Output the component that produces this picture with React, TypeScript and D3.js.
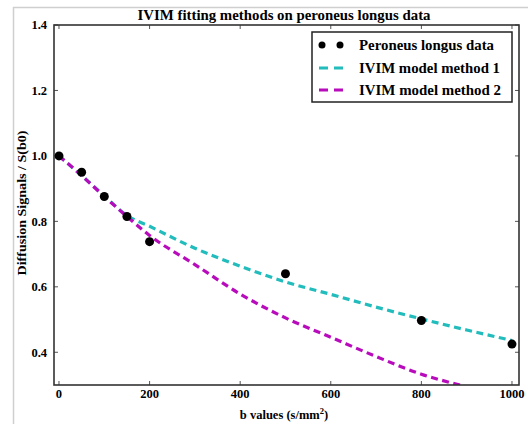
import React from 'react';
import * as d3 from 'd3';

// measured data (b value, normalised signal)
const dataB = [0, 50, 100, 150, 200, 500, 800, 1000];
const dataS = [1.0, 0.95, 0.876, 0.815, 0.738, 0.64, 0.497, 0.425];

// fitted curves
const fitB = [0, 50, 100, 150, 200, 300, 400, 500, 600, 700, 800, 900, 1000];
const fit1 = [1.0, 0.94, 0.878, 0.818, 0.785, 0.718, 0.663, 0.615, 0.577, 0.538, 0.502, 0.468, 0.436];
const fit2 = [1.0, 0.94, 0.876, 0.815, 0.757, 0.668, 0.578, 0.505, 0.446, 0.387, 0.333, 0.294, 0.255];

const xTicks = [0, 200, 400, 600, 800, 1000];
const yTicks = [0.4, 0.6, 0.8, 1.0, 1.2, 1.4];

const legendItems = ['Peroneus longus data', 'IVIM model method 1', 'IVIM model method 2'];
const legendLen = [135, 141, 142];

const W = 528, H = 424;
const left = 54, right = 519, top = 25, bottom = 385;
const CYAN = '#22bcbc';
const MAGENTA = '#b80cbc';
const FONT = '"Liberation Serif", "Times New Roman", serif';

export default function App() {
  const x = d3.scaleLinear().domain([-11, 1015.5]).range([left, right]);
  const y = d3.scaleLinear().domain([0.3, 1.4]).range([bottom, top]);

  const line = d3.line<number>()
    .x((d, i) => x(fitB[i]))
    .y(d => y(d))
    .curve(d3.curveMonotoneX);

  const fmtY = (v: number) => v.toFixed(1);
  const legendY = [45, 68, 90];

  return (
    <svg width={W} height={H} style={{ position: 'absolute', left: 0, top: 0, background: '#fff' }}
      fontFamily={FONT} fontWeight="bold">
      <defs>
        <clipPath id="plot">
          <rect x={left} y={top} width={right - left} height={bottom - top} />
        </clipPath>
      </defs>

      {/* outer light frame */}
      <line x1={13} y1={7.5} x2={W} y2={7.5} stroke="#cfcfcf" strokeWidth={1.5} />
      <line x1={13.5} y1={7} x2={13.5} y2={H} stroke="#cfcfcf" strokeWidth={1.5} />

      <text x={284} y={20} textAnchor="middle" fontSize={15.5} textLength={293} lengthAdjust="spacingAndGlyphs">
        IVIM fitting methods on peroneus longus data
      </text>

      {/* ticks, inward on all sides */}
      {xTicks.map(t => (
        <g key={'x' + t}>
          <line x1={x(t)} x2={x(t)} y1={bottom} y2={bottom - 4} stroke="#555" />
          <line x1={x(t)} x2={x(t)} y1={top} y2={top + 4} stroke="#555" />
          <text x={x(t)} y={398} textAnchor="middle" fontSize={12.5}>{t}</text>
        </g>
      ))}
      {yTicks.map(t => (
        <g key={'y' + t}>
          <line x1={left} x2={left + 4} y1={y(t)} y2={y(t)} stroke="#555" />
          <line x1={right} x2={right - 4} y1={y(t)} y2={y(t)} stroke="#555" />
          <text x={47} y={y(t)} dy="0.35em" textAnchor="end" fontSize={12.5}>{fmtY(t)}</text>
        </g>
      ))}

      <g clipPath="url(#plot)">
        <path d={line(fit1) || ''} fill="none" stroke={CYAN} strokeWidth={3.2} strokeDasharray="7,4.5" />
        <path d={line(fit2) || ''} fill="none" stroke={MAGENTA} strokeWidth={3.2} strokeDasharray="7,4.5" />
        {dataB.map((b, i) => (
          <circle key={b} cx={x(b)} cy={y(dataS[i])} r={4.5} fill="#000" />
        ))}
      </g>

      <rect x={left} y={top} width={right - left} height={bottom - top} fill="none" stroke="#333" strokeWidth={1.6} />

      {/* legend */}
      <rect x={312} y={32} width={200} height={70} fill="#fff" stroke="#222" strokeWidth={1.5} />
      <circle cx={322} cy={legendY[0]} r={3.5} fill="#000" />
      <circle cx={340} cy={legendY[0]} r={3.5} fill="#000" />
      <line x1={319} x2={346} y1={legendY[1]} y2={legendY[1]} stroke={CYAN} strokeWidth={3.2} strokeDasharray="9,6" />
      <line x1={319} x2={346} y1={legendY[2]} y2={legendY[2]} stroke={MAGENTA} strokeWidth={3.2} strokeDasharray="9,6" />
      {legendItems.map((s, i) => (
        <text key={s} x={359} y={legendY[i]} dy="0.35em" fontSize={15}
          textLength={legendLen[i]} lengthAdjust="spacingAndGlyphs">{s}</text>
      ))}

      <text x={284} y={419} textAnchor="middle" fontSize={12.5}>
        b values (s/mm<tspan dy="-5" fontSize={8.5}>2</tspan><tspan dy="5">)</tspan>
      </text>
      <text transform={`translate(26,203) rotate(-90)`} textAnchor="middle" fontSize={13.5}
        textLength={145} lengthAdjust="spacingAndGlyphs">
        Diffusion Signals / S(b0)
      </text>
    </svg>
  );
}
